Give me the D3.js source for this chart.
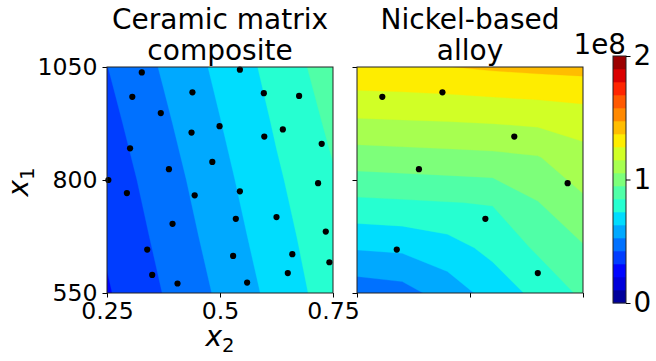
<!DOCTYPE html>
<html><head><meta charset="utf-8">
<script src="https://cdn.jsdelivr.net/npm/d3@7"></script>
<style>
body{margin:0;background:#fff}
svg{display:block}
text{font-family:"DejaVu Sans",sans-serif;fill:#000}
</style>
</head><body>
<svg id="chart" width="656" height="361"></svg>
<script>
// ---------------- data ----------------
const titles = [["Ceramic matrix","composite"],["Nickel-based","alloy"]];
const x2Ticks = [0.25, 0.5, 0.75];
const x2TickLabels = ["0.25", "0.5", "0.75"];
const x1Ticks = [550, 800, 1050];
const x1TickLabels = ["550", "800", "1050"];
const cbarTicks = [0, 1e8, 2e8];
const cbarTickLabels = ["0", "1", "2"];
const levelMin = 0, levelMax = 2e8, levelCount = 20;

// Ceramic matrix composite: field on a coarse grid (rows = x1 from 1050 down to 550)
const cmcGridX2 = [0.25, 0.375, 0.5, 0.625, 0.75];
const cmcGridX1 = [1050, 925, 800, 675, 550];
const cmcValues = [
  [0.419e8, 0.538e8, 0.657e8, 0.777e8, 0.897e8],
  [0.388e8, 0.507e8, 0.628e8, 0.749e8, 0.864e8],
  [0.358e8, 0.477e8, 0.599e8, 0.722e8, 0.832e8],
  [0.332e8, 0.451e8, 0.572e8, 0.695e8, 0.812e8],
  [0.305e8, 0.424e8, 0.544e8, 0.667e8, 0.792e8]
];
// Nickel-based alloy
const niGridX2 = [0.25, 0.35, 0.45, 0.55, 0.65, 0.75];
const niGridX1 = [1050, 950, 850, 750, 650, 550];
const niValues = [
  [1.349e8, 1.355e8, 1.366e8, 1.384e8, 1.396e8, 1.403e8],
  [1.182e8, 1.188e8, 1.194e8, 1.202e8, 1.213e8, 1.232e8],
  [1.002e8, 1.011e8, 1.019e8, 1.028e8, 1.047e8, 1.118e8],
  [0.820e8, 0.829e8, 0.839e8, 0.848e8, 0.944e8, 1.036e8],
  [0.640e8, 0.652e8, 0.693e8, 0.767e8, 0.858e8, 0.938e8],
  [0.461e8, 0.484e8, 0.576e8, 0.671e8, 0.767e8, 0.861e8]
];

// sample points
const cmcPtsX2 = [0.327,0.306,0.439,0.369,0.544,0.597,0.675,0.437,0.499,0.598,0.639,0.725,0.301,0.483,0.387,0.253,
                  0.294,0.444,0.544,0.717,0.395,0.535,0.625,0.734,0.339,0.529,0.660,0.742,0.350,0.650,0.406,0.560];
const cmcPtsX1 = [1038,984,994,948,1044,992,986,905,919,896,912,880,870,840,824,800,
                  771,766,775,793,703,714,718,686,646,632,636,618,590,594,571,573];
const niPtsX2 = [0.306,0.439,0.598,0.387,0.716,0.534,0.338,0.650];
const niPtsX1 = [984,994,896,824,793,714,646,594];

// ---------------- helpers ----------------
const levels = d3.range(levelCount).map(i => levelMin + i*(levelMax-levelMin)/(levelCount-1));
// matplotlib "jet" colormap segment data through d3 linear scales
const jetR = d3.scaleLinear().domain([0,0.35,0.66,0.89,1]).range([0,0,1,1,0.5]);
const jetG = d3.scaleLinear().domain([0,0.125,0.375,0.64,0.91,1]).range([0,0,1,1,0,0]);
const jetB = d3.scaleLinear().domain([0,0.11,0.34,0.65,1]).range([0.5,1,1,0,0]);
function jet(t){
  const q = Math.min(255, Math.floor(t*256))/255;
  return d3.rgb(Math.round(jetR(q)*255), Math.round(jetG(q)*255), Math.round(jetB(q)*255)).toString();
}
const norm = d3.scaleLinear().domain([levelMin, levelMax]).range([0,1]);
function bandColor(k){ return jet(norm((levels[k]+levels[k+1])/2)); }

const svg = d3.select("#chart");
const W = 226, H = 226, plotTop = 67;
const panels = [
  {left:107, gx:cmcGridX2, gy:cmcGridX1, vals:cmcValues, px:cmcPtsX2, py:cmcPtsX1, labels:true},
  {left:357, gx:niGridX2, gy:niGridX1, vals:niValues, px:niPtsX2, py:niPtsX1, labels:false}
];

panels.forEach((p, pi) => {
  const xs = d3.scaleLinear().domain([0.25, 0.75]).range([p.left, p.left + W]);
  const ys = d3.scaleLinear().domain([550, 1050]).range([plotTop + H, plotTop]);
  const g = svg.append("g");
  const cid = "clip" + pi;
  svg.append("clipPath").attr("id", cid).append("rect")
    .attr("x", p.left).attr("y", plotTop).attr("width", W).attr("height", H);
  const n = p.gx.length, m = p.gy.length;
  const stepX = p.gx[1]-p.gx[0], stepY = p.gy[1]-p.gy[0];
  const proj = d3.geoTransform({point(x, y){
    this.stream.point(xs(p.gx[0] + (x-0.5)*stepX), ys(p.gy[0] + (y-0.5)*stepY));
  }});
  const path = d3.geoPath(proj);
  const cs = d3.contours().size([n, m]).thresholds(levels)(p.vals.flat());
  const cg = g.append("g").attr("clip-path", `url(#${cid})`);
  cs.forEach((c, k) => {
    if (k >= levels.length-1) return;
    cg.append("path").attr("d", path(c)).attr("fill", bandColor(k))
      .attr("stroke", bandColor(k)).attr("stroke-width", 0.3);
  });
  // points
  g.append("g").selectAll("circle").data(p.px.map((v,i)=>[v, p.py[i]])).join("circle")
    .attr("cx", d => xs(d[0])).attr("cy", d => ys(d[1])).attr("r", 3.1).attr("fill", "#000");
  // axes
  const ax = g.append("g").attr("transform", `translate(0,${plotTop+H})`)
    .call(d3.axisBottom(xs).tickValues(x2Ticks).tickSize(4.5).tickPadding(5)
      .tickFormat((d,i) => p.labels ? x2TickLabels[i] : ""));
  const ay = g.append("g").attr("transform", `translate(${p.left},0)`)
    .call(d3.axisLeft(ys).tickValues(x1Ticks).tickSize(4.5).tickPadding(5)
      .tickFormat((d,i) => p.labels ? x1TickLabels[i] : ""));
  [ax, ay].forEach(a => {
    a.select(".domain").remove();
    a.selectAll("line").attr("stroke", "#000").attr("stroke-width", 1);
    a.selectAll("text").attr("font-size", "23.6px").attr("font-family", "DejaVu Sans").attr("fill", "#000");
  });
  // frame
  g.append("rect").attr("x", p.left).attr("y", plotTop).attr("width", W).attr("height", H)
    .attr("fill", "none").attr("stroke", "#222").attr("stroke-width", 1);
  // title
  const t = g.append("text").attr("text-anchor", "middle").attr("font-size", "28px");
  titles[pi].forEach((line, li) => {
    t.append("tspan").attr("x", p.left + W/2).attr("y", li === 0 ? 28.5 : 60).text(line);
  });
});

// axis labels
const xl = svg.append("text").attr("x", 220).attr("y", 346).attr("text-anchor", "middle").attr("font-size", "28px");
xl.append("tspan").attr("font-style", "italic").text("x");
xl.append("tspan").attr("font-size", "19.6px").attr("dy", 6).text("2");
const yl = svg.append("text").attr("transform", "translate(28,182) rotate(-90)").attr("text-anchor", "middle").attr("font-size", "28px");
yl.append("tspan").attr("font-style", "italic").text("x");
yl.append("tspan").attr("font-size", "19.6px").attr("dy", 6).text("1");

// colorbar
const cbX = 613, cbW = 13;
const cy = d3.scaleLinear().domain([levelMin, levelMax]).range([303, 56]);
const cb = svg.append("g");
d3.range(levels.length-1).forEach(k => {
  cb.append("rect").attr("x", cbX).attr("width", cbW)
    .attr("y", cy(levels[k+1])).attr("height", cy(levels[k]) - cy(levels[k+1]) + 0.3)
    .attr("fill", bandColor(k));
});
cb.append("rect").attr("x", cbX).attr("y", 56).attr("width", cbW).attr("height", 247)
  .attr("fill", "none").attr("stroke", "#222").attr("stroke-width", 1);
const ca = cb.append("g").attr("transform", `translate(${cbX+cbW},0)`)
  .call(d3.axisRight(cy).tickValues(cbarTicks).tickSize(4.5).tickPadding(3)
    .tickFormat((d,i) => cbarTickLabels[i]));
ca.select(".domain").remove();
ca.selectAll("line").attr("stroke", "#000");
ca.selectAll("text").attr("font-size", "27.8px").attr("font-family", "DejaVu Sans").attr("fill", "#000");
svg.append("text").attr("x", 626).attr("y", 54).attr("text-anchor", "end").attr("font-size", "27.8px").text("1e8");
</script>
</body></html>
